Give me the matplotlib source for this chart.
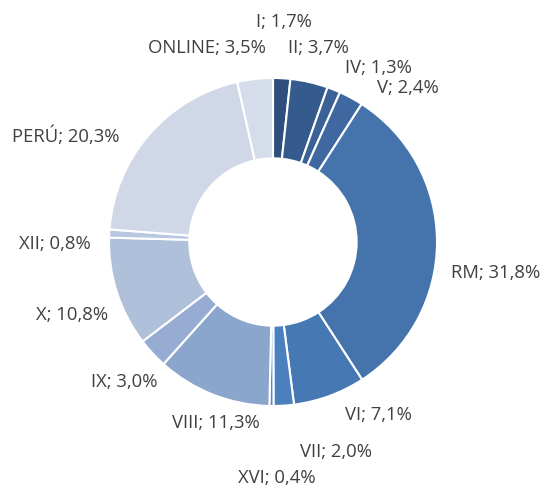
import numpy as np
import matplotlib.pyplot as plt

regions = ['I', 'II', 'IV', 'V', 'RM', 'VI', 'VII', 'XVI', 'VIII', 'IX', 'X', 'XII', 'PERÚ', 'ONLINE']
shares = [1.7, 3.7, 1.3, 2.4, 31.8, 7.1, 2.0, 0.4, 11.3, 3.0, 10.8, 0.8, 20.3, 3.5]
colors = ['#2E4F7D', '#355B8D', '#3A6296', '#3E689F', '#4573AC', '#4679B4', '#4B80BE',
          '#5588C4', '#8BA6CD', '#97ACD2', '#AFC0DB', '#B9C8E1', '#D0D8E7', '#D6DDEA']

# label centre x / baseline y, in pixels of the 545x487 picture
label_px = [(284, 27), (318, 53), (378, 73), (408, 93), (496, 278), (378, 420), (336, 457),
            (277, 483), (216, 428), (124, 387), (72, 320), (55, 249), (66, 142), (207, 53)]

W, H = 545, 487
cx, cy, R = 273, 242, 164

fig = plt.figure(figsize=(W / 100, H / 100), dpi=100)
ax = fig.add_axes([0, 0, 1, 1])
ax.pie(shares, colors=colors, startangle=90, counterclock=False, radius=1,
       wedgeprops=dict(width=0.49, edgecolor='white', linewidth=1.5))
ax.set_xlim(-cx / R, (W - cx) / R)
ax.set_ylim(-(H - cy) / R, cy / R)
ax.set_aspect('auto')
ax.axis('off')

for name, val, (px, py) in zip(regions, shares, label_px):
    txt = f"{name}; {val:.1f}%".replace('.', ',')
    ax.text((px - cx) / R, (cy - py) / R, txt, ha='center', va='baseline',
            fontsize=13.3, color='#404040', family='Open Sans')

fig.savefig('out.png', dpi=100)
